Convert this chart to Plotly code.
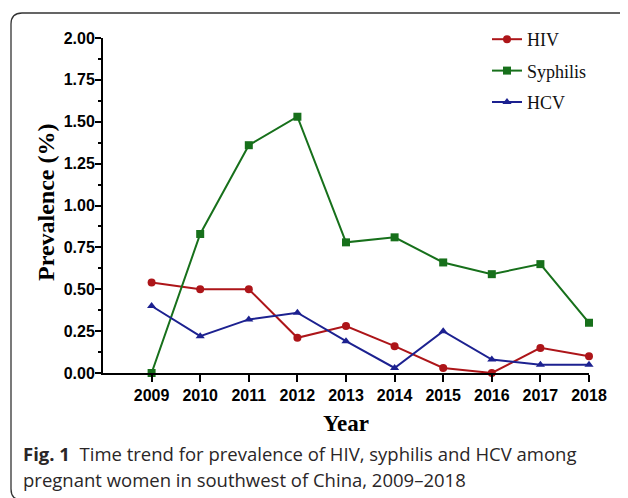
import plotly.graph_objects as go

years = [2009, 2010, 2011, 2012, 2013, 2014, 2015, 2016, 2017, 2018]
hiv = [0.54, 0.50, 0.50, 0.21, 0.28, 0.16, 0.03, 0.00, 0.15, 0.10]
syphilis = [0.00, 0.83, 1.36, 1.53, 0.78, 0.81, 0.66, 0.59, 0.65, 0.30]
hcv = [0.40, 0.22, 0.32, 0.36, 0.19, 0.03, 0.25, 0.08, 0.05, 0.05]
y_ticks = [0, 0.25, 0.5, 0.75, 1.0, 1.25, 1.5, 1.75, 2.0]
y_ticklabels = ["0.00", "0.25", "0.50", "0.75", "1.00", "1.25", "1.50", "1.75", "2.00"]

# page body has an 8px margin; work in screen pixels and shift
OFF = 8
W, H = 628, 498
PL, PR, PT, PB = 103, 589, 38, 373  # plot area in screen pixels
L, T = PL - OFF, PT - OFF
R = W - (PR - OFF)
B = H - (PB - OFF)
pw, ph = PR - PL, PB - PT

def px2paper(px, py):
    return (px - PL) / pw, (PB - py) / ph

series = [
    ("HIV", hiv, "#ad1519", "circle"),
    ("Syphilis", syphilis, "#17701b", "square"),
    ("HCV", hcv, "#1c2190", "triangle-up"),
]

fig = go.Figure()
for name, vals, col, sym in series:
    fig.add_trace(go.Scatter(
        x=years, y=vals, name=name, mode="lines+markers", legendgroup=name,
        line=dict(color=col, width=2),
        marker=dict(symbol=sym, size=8, color=col),
        cliponaxis=False,
    ))

# rounded border
x0, y0, x1, y1, r = 11, 13, 660, 500, 11
def P(px, py):
    a, b = px2paper(px, py)
    return f"{a:.5f},{b:.5f}"
path = (f"M {P(x0, y1 - r)} L {P(x0, y0 + r)} Q {P(x0, y0)} {P(x0 + r, y0)} "
        f"L {P(x1, y0)}")
path2 = (f"M {P(x0, y1 - r)} Q {P(x0, y1)} {P(x0 + r, y1)}")

tickfont = dict(family="Liberation Sans", size=16, color="black", weight="bold")

fig.update_layout(
    width=W, height=H,
    margin=dict(l=L, r=R, t=T, b=B, pad=0),
    paper_bgcolor="white", plot_bgcolor="white",
    showlegend=True,
    legend=dict(
        x=px2paper(487, 0)[0], y=px2paper(0, 21)[1], xanchor="left", yanchor="top",
        font=dict(family="Liberation Serif", size=18, color="#111"),
        bgcolor="rgba(0,0,0,0)", itemwidth=30, tracegroupgap=5,
    ),
    xaxis=dict(
        range=[2008, 2018], tickmode="array", tickvals=years,
        ticktext=[str(y) for y in years],
        showgrid=False, zeroline=False, showline=True,
        linecolor="black", linewidth=2,
        ticks="outside", ticklen=7, tickwidth=2, tickcolor="black",
        tickfont=tickfont,
    ),
    yaxis=dict(
        range=[0, 2], tickmode="array", tickvals=y_ticks, ticktext=y_ticklabels,
        showgrid=False, zeroline=False, showline=True,
        linecolor="black", linewidth=2,
        ticks="outside", ticklen=6, tickwidth=2, tickcolor="black",
        tickfont=tickfont, ticklabelstandoff=-3,
        minor=dict(dtick=0.125, tick0=0, ticks="outside", ticklen=3, tickwidth=1.5,
                   tickcolor="black", showgrid=False),
    ),
    shapes=[
        dict(type="path", xref="paper", yref="paper", path=path,
             line=dict(color="#333", width=1.3)),
        dict(type="path", xref="paper", yref="paper", path=path2,
             line=dict(color="#333", width=1.3)),
    ],
    annotations=[
        dict(text="<b>Prevalence (%)</b>", textangle=-90, showarrow=False,
             xref="paper", yref="paper", x=px2paper(46, 0)[0], y=px2paper(0, 202)[1],
             xanchor="center", yanchor="middle",
             font=dict(family="Liberation Serif", size=24, color="black")),
        dict(text="<b>Year</b>", showarrow=False,
             xref="paper", yref="paper", x=px2paper(346, 0)[0], y=px2paper(0, 423)[1],
             xanchor="center", yanchor="middle",
             font=dict(family="Liberation Serif", size=23, color="black")),
        dict(text="<b>Fig. 1</b>  Time trend for prevalence of HIV, syphilis and HCV among",
             showarrow=False, xref="paper", yref="paper",
             x=px2paper(21, 0)[0], y=px2paper(0, 453)[1], xanchor="left", yanchor="middle",
             font=dict(family="Open Sans", size=18.5, color="#2a2627")),
        dict(text="pregnant women in southwest of China, 2009–2018",
             showarrow=False, xref="paper", yref="paper",
             x=px2paper(21, 0)[0], y=px2paper(0, 479)[1], xanchor="left", yanchor="middle",
             font=dict(family="Open Sans", size=18.5, color="#2a2627")),
    ],
)

fig.write_html("out.html")
